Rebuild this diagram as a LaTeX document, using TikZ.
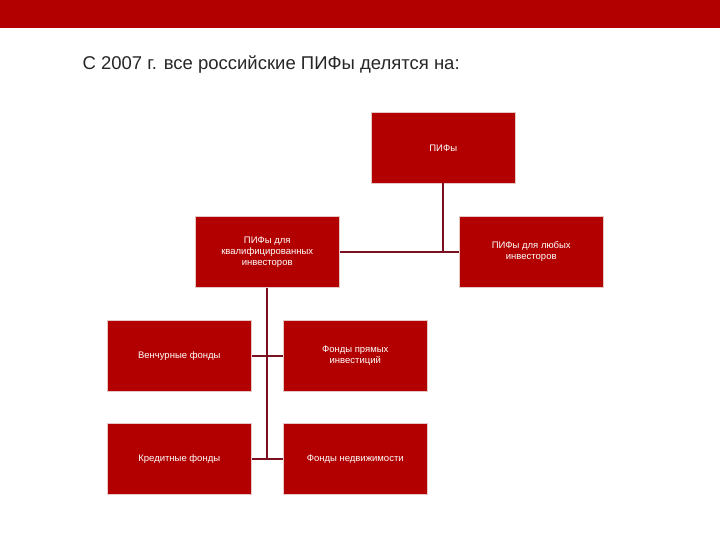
\documentclass[tikz,border=0pt]{standalone}
\usepackage{fontspec}
\setmainfont{Liberation Sans}
\begin{document}
\begin{tikzpicture}[x=1pt,y=-1pt,
  bx/.style={fill=boxred,draw=boxedge,line width=0.5pt,minimum width=144pt,minimum height=71pt,text=white,font=\fontsize{9.5}{11}\selectfont,align=center,inner sep=1pt,anchor=north west},
  ln/.style={draw=lnred,line width=1.6pt}]
\definecolor{boxred}{HTML}{B20000}
\definecolor{boxedge}{HTML}{E8C8C8}
\definecolor{lnred}{HTML}{7A1020}
\useasboundingbox (0,0) rectangle (720,540);
\fill[boxred] (0,0) rectangle (720,28);
\node[anchor=west,font=\fontsize{18.5}{22}\selectfont,text=black!85] (t) at (79,65) {С 2007 г. все российские ПИФы делятся на:};
\node[bx] (p) at (371,112) {ПИФы};
\node[bx] (q) at (195,216) {ПИФы для\\квалифицированных\\инвесторов};
\node[bx] (a) at (459,216) {ПИФы для любых\\инвесторов};
\node[bx] (v) at (107,320) {Венчурные фонды};
\node[bx] (d) at (283,320) {Фонды прямых\\инвестиций};
\node[bx] (c) at (107,423) {Кредитные фонды};
\node[bx,inner sep=0pt] (r) at (283,423) {Фонды недвижимости};
\coordinate (j1) at (p.south |- q.east);
\coordinate (j2) at (q.south |- v.east);
\coordinate (j3) at (q.south |- c.east);
\draw[ln] (p.south) -- (j1);
\draw[ln] (q.east) -- (a.west);
\draw[ln] (q.south) -- (j3);
\draw[ln] (v.east) -- (d.west);
\draw[ln] (c.east) -- (r.west);
\end{tikzpicture}
\end{document}
